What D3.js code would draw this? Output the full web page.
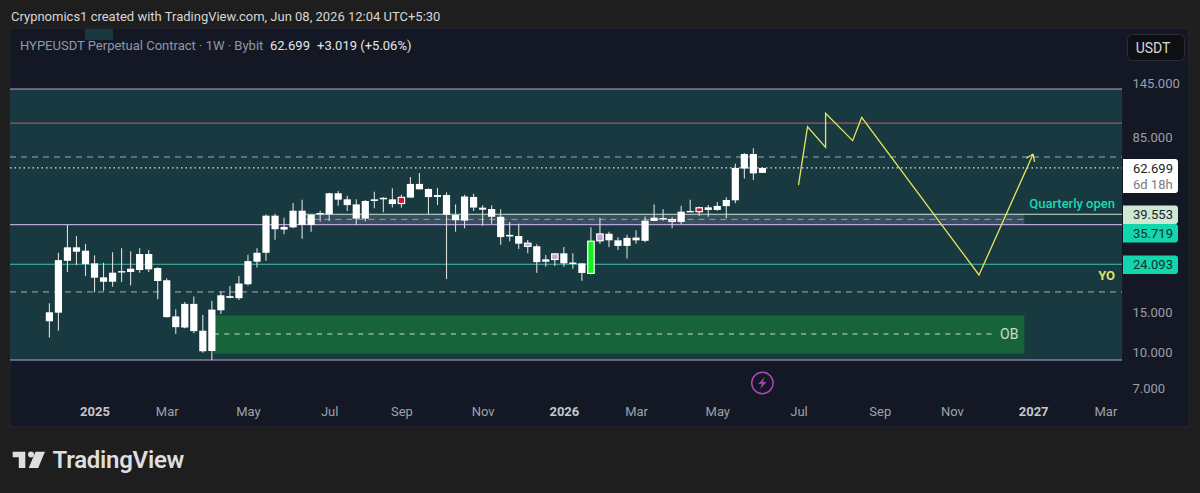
<!DOCTYPE html>
<html>
<head>
<meta charset="utf-8">
<script src="https://cdn.jsdelivr.net/npm/d3@7"></script>
<style>
html,body{margin:0;padding:0;background:#1e1e1e;overflow:hidden}
svg{display:block}
text{font-family:Roboto,sans-serif}
</style>
</head>
<body>
<svg id="c" width="1200" height="493"></svg>
<script>
const opens=[13.67,14.89,24.93,28.5,27.56,24.3,21.15,20.25,22.2,22.3,
22.75,26.67,23.2,20.55,14.35,12.85,16.25,12.45,10.18,15.25,
17.55,17.2,19.75,24.7,27.0,39.03,34.0,34.75,41.0,35.6,
39.6,39.6,48.75,45.9,43.65,37.9,45.15,45.9,45.9,43.95,
46.7,53.5,50.85,47.0,47.9,39.3,37.15,47.0,42.25,41.7,
38.6,31.75,31.9,29.75,28.8,24.7,25.2,26.85,24.15,24.3,
21.95,30.35,32.6,30.55,28.9,30.55,30.4,37.05,38.1,37.6,
36.65,40.6,40.5,42.4,41.3,42.9,45.45,62.3,72.0,59.68];
const closes=[14.95,25.1,28.5,27.28,24.13,21.08,20.25,22.15,22.5,23.05,
26.67,22.9,20.4,14.25,12.9,16.25,12.4,10.15,15.35,17.7,
17.25,19.9,24.85,27.0,39.03,34.1,34.9,41.0,35.6,39.3,
40.1,48.75,45.75,43.35,37.9,45.15,45.9,46.6,43.8,46.9,
53.5,50.7,46.95,47.9,39.45,37.3,47.2,42.3,41.4,38.6,
31.55,32.25,29.55,28.7,24.6,25.3,26.75,24.3,24.5,22.1,
30.35,32.6,30.55,28.9,31.3,31.4,37.15,38.25,37.6,36.8,
40.6,40.9,42.3,41.3,43.0,45.6,62.7,72.0,59.4,62.699];
const highs=[16.35,27.0,35.6,31.9,29.45,26.33,24.43,27.14,28.23,27.4,
28.23,27.75,23.4,20.95,15.4,16.55,17.5,14.55,16.78,18.35,
19.42,21.45,26.5,28.23,39.5,39.8,38.25,44.25,45.75,39.7,
41.0,49.0,49.85,47.6,45.9,45.6,49.5,46.9,51.2,48.0,
57.35,59.6,51.2,51.35,49.2,43.65,48.0,48.55,43.25,43.25,
41.55,36.65,36.0,30.65,29.35,26.4,26.85,28.6,26.85,24.3,
34.75,38.25,33.3,31.5,32.25,33.75,38.75,43.65,41.55,38.4,
43.1,45.75,42.7,43.35,44.7,46.9,65.3,72.7,76.2,62.9];
const lows=[11.65,12.45,22.3,23.9,21.43,18.23,18.52,19.27,20.2,19.55,
22.15,22.3,17.0,14.2,12.05,12.75,12.15,10.0,9.31,14.7,
17.2,16.9,19.5,23.3,24.93,30.75,32.43,34.45,31.0,33.3,
36.8,37.05,43.1,40.9,35.7,36.8,42.0,40.4,42.3,42.3,
46.7,50.7,39.6,43.35,20.8,33.3,34.45,40.9,35.35,36.0,
29.25,30.25,28.0,26.85,22.15,23.5,23.65,23.5,23.05,20.45,
21.8,29.55,28.6,27.75,25.5,29.55,30.0,37.05,37.15,34.45,
35.85,40.6,38.9,38.65,41.0,38.0,44.1,56.4,55.6,59.68];
const accentBars={39:"#d4112f",53:"#c8a6d6",56:"#c8a6d6",60:"#14ef1e",61:"#c8a0d2",69:"#d98aa8",72:"#d4112f"};
const priceTicks=[145,85,15,10,7];
const timeTicks=[["2025-01-06","2025",1],["2025-03-03","Mar",0],["2025-05-05","May",0],["2025-07-07","Jul",0],["2025-09-01","Sep",0],["2025-11-03","Nov",0],["2026-01-05","2026",1],["2026-03-02","Mar",0],["2026-05-04","May",0],["2026-07-06","Jul",0],["2026-09-07","Sep",0],["2026-11-02","Nov",0],["2027-01-04","2027",1],["2027-03-01","Mar",0]];
const projDates=["2026-07-06","2026-07-13","2026-07-27","2026-07-27","2026-08-17","2026-08-24","2026-11-23","2027-01-04"];
const projPrices=[52.9,94.4,76.9,107.8,82.2,103.7,21.65,72.0];
const zoneTop=137.3, zoneBottom=9.31, redLevel=97.9, upperDash=69.9, lastPrice=62.699, lowerDash=18.3;
const quarterOpen=39.553, midLevel=35.719, yearOpen=24.093, boxMid=37.6;
const obTop=14.5, obBottom=9.9, obMid=12.05;

const parse=d3.utcParse("%Y-%m-%d");
const firstBar=parse("2024-12-02"), lastBar=parse("2026-06-08");
const dates=d3.utcMonday.range(firstBar,d3.utcDay.offset(lastBar,1));
const x=d3.scaleUtc().domain([firstBar,lastBar]).range([49.4,762.4]);
const y=d3.scaleLog().domain([145,7]).range([83.5,388.7]);
const L=10,R=1122,P=1189;
const svg=d3.select("#c");

svg.append("rect").attr("x",0).attr("y",0).attr("width",1200).attr("height",493).attr("fill","#1e1e1e");
svg.append("rect").attr("x",L).attr("y",28).attr("width",P-L).attr("height",399).attr("fill","#141824").attr("stroke","#242730").attr("stroke-width",1);
svg.append("rect").attr("x",85).attr("y",29).attr("width",28).attr("height",11).attr("fill","#17393f");
svg.append("rect").attr("x",L).attr("y",y(zoneTop)).attr("width",R-L).attr("height",y(zoneBottom)-y(zoneTop)).attr("fill","#17393f");

// boxes
const bx0=x(parse("2025-06-16"))+0.3, bx1=1024.4;
svg.append("rect").attr("x",bx0).attr("y",y(quarterOpen)).attr("width",bx1-bx0).attr("height",y(midLevel)-y(quarterOpen)).attr("fill","#3b4e60");
const ob0=214;
svg.append("rect").attr("x",ob0).attr("y",y(obTop)).attr("width",bx1-ob0).attr("height",y(obBottom)-y(obTop)).attr("fill","#17643a");

function hline(p,x0,x1,col,w,dash){
  const l=svg.append("line").attr("x1",x0).attr("x2",x1).attr("y1",y(p)).attr("y2",y(p)).attr("stroke",col).attr("stroke-width",w);
  if(dash) l.attr("stroke-dasharray",dash);
}
hline(zoneTop,L,R,"#b79fd6",1.1);
hline(redLevel,L,R,"#a8525c",1.2);
hline(upperDash,L,R,"#a4a8ba",1,"6 5");
hline(lastPrice,L,R,"#dfe6e6",1.1,"1.5 3");
hline(quarterOpen,bx0,R,"#c5e6d2",1.1);
hline(boxMid,bx0,bx1,"#2fc6ca",1,"6 5");
hline(midLevel,L,R,"#b5a6dc",1.1);
hline(yearOpen,L,R,"#43c0ae",1.1);
hline(lowerDash,L,R,"#a8acb6",1,"6 5");
hline(obMid,ob0,996,"#c8dfd0",1,"5 5.3");
hline(zoneBottom,L,R,"#b79fd6",1.1);

// candles
const bars=dates.map((d,i)=>({d,i,o:opens[i],h:highs[i],l:lows[i],c:closes[i]}));
svg.append("g").selectAll("line").data(bars).join("line")
  .attr("x1",b=>x(b.d)).attr("x2",b=>x(b.d)).attr("y1",b=>y(b.h)).attr("y2",b=>y(b.l))
  .attr("stroke","#d9dedd").attr("stroke-width",1.1);
svg.append("g").selectAll("rect").data(bars).join("rect")
  .attr("x",b=>x(b.d)-3.6).attr("width",7.2)
  .attr("y",b=>y(Math.max(b.o,b.c)))
  .attr("height",b=>Math.max(1.4,y(Math.min(b.o,b.c))-y(Math.max(b.o,b.c))))
  .attr("fill",b=>accentBars[b.i]||"#ffffff");
svg.append("g").selectAll("rect").data(bars.filter(b=>accentBars[b.i])).join("rect")
  .attr("x",b=>x(b.d)-3.2).attr("width",6.4)
  .attr("y",b=>y(Math.max(b.o,b.c))+0.2)
  .attr("height",b=>Math.max(1,y(Math.min(b.o,b.c))-y(Math.max(b.o,b.c))-0.4))
  .attr("fill","none").attr("stroke","#fff").attr("stroke-width",1.2);

// projection
const proj=projDates.map((d,i)=>[x(parse(d)),y(projPrices[i])]);
svg.append("path").attr("d",d3.line()(proj)).attr("fill","none").attr("stroke","#e6e65c").attr("stroke-width",1.3);
const tip=proj[proj.length-1], prev=proj[proj.length-2];
const ang=Math.atan2(tip[1]-prev[1],tip[0]-prev[0]);
[2.55,-2.55].forEach(a=>{
  svg.append("line").attr("x1",tip[0]).attr("y1",tip[1])
   .attr("x2",tip[0]+8*Math.cos(ang+a)).attr("y2",tip[1]+8*Math.sin(ang+a))
   .attr("stroke","#e6e65c").attr("stroke-width",1.3);
});

// annotations
svg.append("text").attr("x",1115).attr("y",208).attr("text-anchor","end").attr("font-size",13).attr("font-weight",500).attr("fill","#1dd8b4").text("Quarterly open");
svg.append("text").attr("x",1115).attr("y",280).attr("text-anchor","end").attr("font-size",13).attr("font-weight",700).attr("fill","#dfe660").text("YO");
svg.append("text").attr("x",1000).attr("y",339).attr("font-size",14).attr("fill","#c8dfd0").text("OB");

// top text
svg.append("text").attr("x",11).attr("y",21).attr("font-size",13).attr("fill","#d6d6d6").text("Crypnomics1 created with TradingView.com, Jun 08, 2026 12:04 UTC+5:30");
const head=svg.append("text").attr("x",20).attr("y",50).attr("font-size",13).attr("fill","#9298a6");
head.append("tspan").text("HYPEUSDT Perpetual Contract · 1W · Bybit");
head.append("tspan").attr("x",270).attr("fill","#e4e6ea").text("62.699");
head.append("tspan").attr("x",317).attr("fill","#e4e6ea").text("+3.019 (+5.06%)");

// USDT button
svg.append("rect").attr("x",1127.5).attr("y",34.5).attr("width",57).attr("height",26).attr("rx",5).attr("fill","#0e0f12").attr("stroke","#2a2d36");
svg.append("text").attr("x",1153).attr("y",52.5).attr("text-anchor","middle").attr("font-size",14).attr("fill","#d8d8d8").text("USDT");

// y axis
const yAxis=d3.axisRight(y).tickValues(priceTicks).tickSize(0).tickFormat(d3.format(".3f"));
const gy=svg.append("g").attr("transform","translate(1132.5,0)").call(yAxis);
gy.select(".domain").remove();
gy.selectAll("text").attr("x",0).attr("font-size",13).attr("font-family","Roboto,sans-serif").attr("fill","#9a9ea8");

// price tags
function tag(p,y0,y1,bg,col){
  svg.append("path").attr("d",`M1123,${y0}H1175a3,3 0 0 1 3,3V${y1-3}a3,3 0 0 1 -3,3H1123Z`).attr("fill",bg);
  svg.append("text").attr("x",1133).attr("y",(y0+y1)/2+4.5).attr("font-size",13).attr("fill",col).text(p);
}
tag("39.553",205.5,224,"#cfe8d3","#1a1f26");
tag("35.719",224,242.5,"#12d6ae","#12302c");
tag("24.093",255.5,274,"#12d6ae","#12302c");
svg.append("path").attr("d","M1123,159H1175a3,3 0 0 1 3,3V190a3,3 0 0 1 -3,3H1123Z").attr("fill","#ffffff");
svg.append("text").attr("x",1133).attr("y",173).attr("font-size",13).attr("fill","#1a1f26").text("62.699");
svg.append("text").attr("x",1133).attr("y",189).attr("font-size",13).attr("fill","#787b82").text("6d 18h");

// x axis
const xAxis=d3.axisBottom(x).tickValues(timeTicks.map(t=>parse(t[0]))).tickSize(0).tickFormat((d,i)=>timeTicks[i][1]);
const gx=svg.append("g").attr("transform","translate(0,404)").call(xAxis);
gx.select(".domain").remove();
gx.selectAll("text").attr("font-size",13).attr("font-family","Roboto,sans-serif").attr("fill",(d,i)=>timeTicks[i][2]?"#c4c7cc":"#9ea2aa").attr("font-weight",(d,i)=>timeTicks[i][2]?700:400);

// flash icon
const fl=svg.append("g").attr("transform",`translate(${x(lastBar)},383)`);
fl.append("circle").attr("r",10.7).attr("fill","none").attr("stroke","#b348b8").attr("stroke-width",1.4);
fl.append("path").attr("d","M2.2,-6L-4.2,1H-0.6L-2.2,6L4.2,-1H0.6Z").attr("fill","#a83fae");

// logo
const lg=svg.append("g").attr("fill","#dedede");
lg.append("path").attr("d","M12.7,451.7H25.3V468H18.8V457.2H12.7Z");
lg.append("circle").attr("cx",31).attr("cy",454.6).attr("r",3);
lg.append("path").attr("d","M35.5,451.7H45L38.2,468H28.7Z");
svg.append("text").attr("x",52.5).attr("y",468).attr("font-family","Inter,sans-serif").attr("font-size",24).attr("font-weight",600).attr("letter-spacing","-0.25").attr("fill","#dedede").text("TradingView");
</script>
</body>
</html>
